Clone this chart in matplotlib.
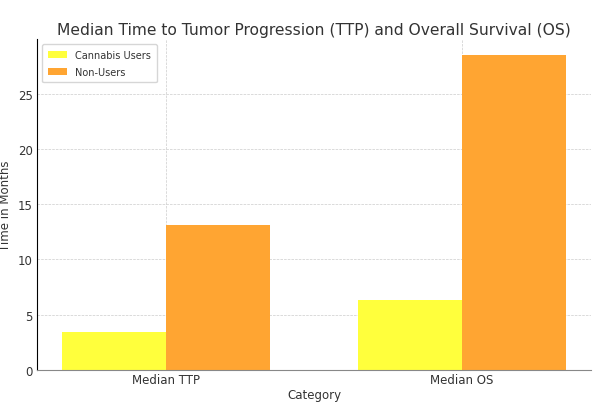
import numpy as np
import matplotlib
matplotlib.use('Agg')
import matplotlib.pyplot as plt

categories = ['Median TTP', 'Median OS']
cannabis_users = [3.4, 6.3]
non_users = [13.1, 28.5]

x = np.arange(len(categories))
width = 0.35

plt.rcParams['text.color'] = '#333333'
plt.rcParams['axes.labelcolor'] = '#333333'
plt.rcParams['xtick.color'] = '#333333'
plt.rcParams['ytick.color'] = '#333333'

fig, ax = plt.subplots(figsize=(6.08, 4.14), dpi=100)

ax.bar(x - width / 2, cannabis_users, width, label='Cannabis Users', color='#ffff3c')
ax.bar(x + width / 2, non_users, width, label='Non-Users', color='#ffa532')

ax.set_xlabel('Category', fontsize=8.5, labelpad=1.5)
ax.set_ylabel('Time in Months', fontsize=8.5, labelpad=4)
ax.set_title('Median Time to Tumor Progression (TTP) and Overall Survival (OS)',
             fontsize=11.2, pad=4)
ax.set_xticks(x)
ax.set_xticklabels(categories)
ax.tick_params(labelsize=8.5, length=0, pad=3)
ax.tick_params(axis='x', pad=2.5)
ax.legend(fontsize=7, loc='upper left', borderpad=0.6, labelspacing=0.7)

ax.grid(True, linestyle='--', linewidth=0.5, color='#cccccc')
ax.set_axisbelow(True)
ax.spines['top'].set_visible(False)
ax.spines['right'].set_visible(False)
ax.spines['bottom'].set_color('#888888')

fig.subplots_adjust(left=0.061, right=0.972, top=0.903, bottom=0.104)
plt.savefig('out.png', dpi=100, facecolor='white')
plt.close()
